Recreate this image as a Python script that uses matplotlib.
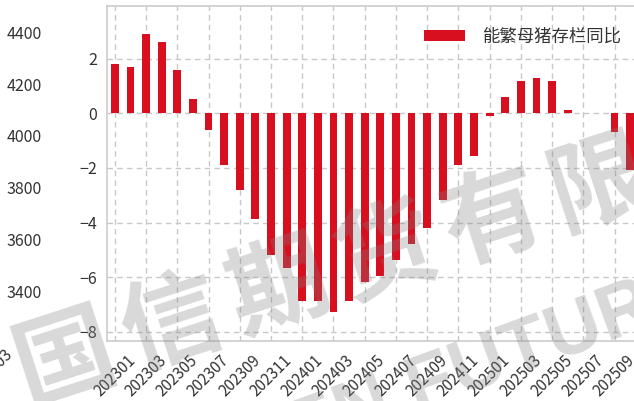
import numpy as np
import matplotlib
matplotlib.use('Agg')
import matplotlib.pyplot as plt

plt.rcParams['font.family'] = ['Noto Sans CJK SC', 'DejaVu Sans']
plt.rcParams['axes.unicode_minus'] = True

# 数据
months = ['202301', '202302', '202303', '202304', '202305', '202306',
          '202307', '202308', '202309', '202310', '202311', '202312',
          '202401', '202402', '202403', '202404', '202405', '202406',
          '202407', '202408', '202409', '202410', '202411', '202412',
          '202501', '202502', '202503', '202504', '202505', '202506',
          '202507', '202508', '202509', '202510']
yoy = [1.8, 1.7, 2.88, 2.59, 1.58, 0.51,
       -0.61, -1.89, -2.8, -3.87, -5.18, -5.66,
       -6.88, -6.88, -7.28, -6.88, -6.18, -5.96,
       -5.38, -4.8, -4.2, -3.19, -1.88, -1.58,
       -0.1, 0.59, 1.17, 1.27, 1.17, 0.1,
       np.nan, np.nan, -0.7, -2.06]
left_ticks = [3400, 3600, 3800, 4000, 4200, 4400]

red = '#d80f1e'
txt = '#333333'
W, H = 634, 401

fig = plt.figure(figsize=(6.34, 4.01), dpi=100)
ax = fig.add_axes([107 / W, 1 - 341 / H, 531 / W, 335 / H])

x = np.arange(len(months))
ax.bar(x, yoy, width=0.5, color=red, label='能繁母猪存栏同比', zorder=3)

ax.set_xlim(-0.5, 33.5)
ax.set_ylim(-8.33, 3.92)
ax.set_yticks([-8, -6, -4, -2, 0, 2])
ax.set_xticks(x[::2])
ax.set_xticklabels(months[::2], rotation=45, ha='center')
ax.tick_params(axis='both', length=0, colors=txt, labelsize=11.5)
ax.tick_params(axis='x', pad=8, labelsize=11)
ax.tick_params(axis='y', pad=7)
ax.grid(True, ls='--', color='#c8c8c8', lw=1, dashes=(4, 3))
for s in ax.spines.values():
    s.set_color('#cccccc')
    s.set_linewidth(1.2)

# 左侧存栏轴（无线条，只剩刻度）
ax2 = ax.twinx()
ax2.set_ylim(3207, 4502)
ax2.set_yticks(left_ticks)
ax2.yaxis.set_ticks_position('left')
ax2.yaxis.set_label_position('left')
ax2.tick_params(axis='y', length=0, pad=47, colors=txt, labelsize=11.5)
for s in ax2.spines.values():
    s.set_visible(False)

leg = ax.legend(loc='upper left', bbox_to_anchor=(408 / W, 1 - 12 / H),
                bbox_transform=fig.transFigure, frameon=False, fontsize=12.5,
                handlelength=2.4, handleheight=0.65, handletextpad=1.0)
for t in leg.get_texts():
    t.set_color(txt)

# 被裁掉的标签残余
fig.text(16 / W, 1 - 346 / H, '202303', rotation=45, ha='right', va='top',
         fontsize=11, color=txt)

# 水印
for i, ch in enumerate('国信期货有限公司'):
    cx = 65 + 107 * i
    cy = 360 - 35 * i
    fig.text(cx / W, 1 - cy / H, ch, rotation=18, rotation_mode='anchor',
             ha='center', va='center', fontsize=72, fontweight='bold',
             color='gray', alpha=0.3, zorder=10)
fig.text(85 / W, 1 - 532 / H, 'GUOSEN FUTURES', rotation=20,
         rotation_mode='anchor', ha='left', va='baseline', fontsize=55,
         fontweight='bold', family=['Liberation Sans'], color='gray',
         alpha=0.3, zorder=10)

fig.savefig('out.png', dpi=100)
